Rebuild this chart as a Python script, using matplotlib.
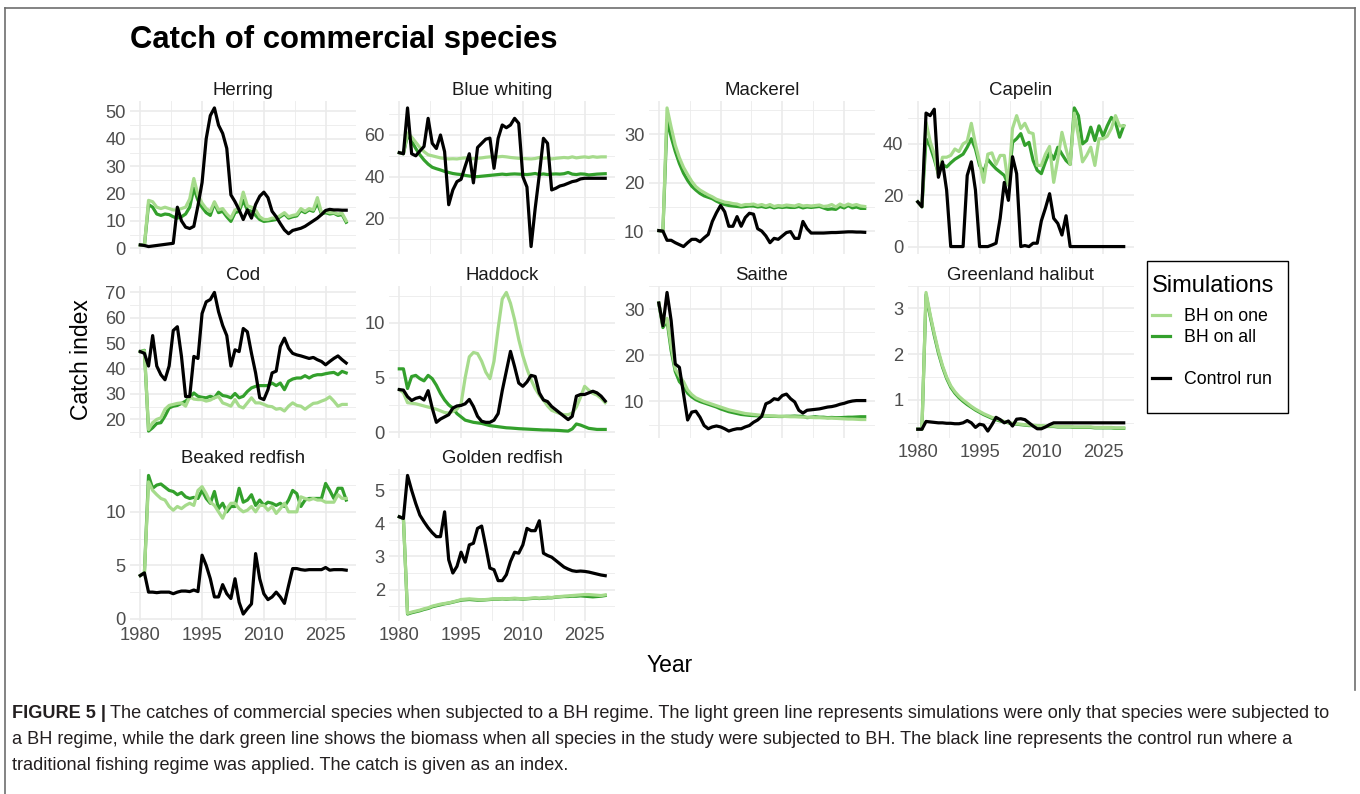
import matplotlib
matplotlib.use("Agg")
import matplotlib.pyplot as plt
from matplotlib.lines import Line2D
from matplotlib.patches import Rectangle
from matplotlib.ticker import FixedLocator, MultipleLocator

plt.rcParams["font.family"] = ["Liberation Sans", "DejaVu Sans"]

# ---- data ----
years = list(range(1980, 2031))

herring_one = [1.2, 1.0, 17.5, 17.0, 15.0, 14.5, 15.0, 14.5, 14.0, 14.0,
               14.5, 15.0, 18.0, 25.5, 19.5, 16.5, 14.5, 13.5, 17.0, 14.0,
               14.5, 12.5, 11.0, 14.0, 14.5, 20.5, 15.5, 15.0, 14.0, 11.5,
               10.5, 10.5, 11.0, 11.0, 12.0, 13.0, 11.5, 12.0, 12.3, 14.5,
               13.5, 14.5, 14.0, 18.5, 13.0, 13.5, 13.0, 13.0, 12.5, 12.8, 10.0]
herring_all = [1.2, 1.0, 16.0, 15.0, 12.5, 12.0, 12.5, 12.3, 11.5, 11.0,
               11.5, 12.5, 15.0, 22.0, 17.5, 15.0, 13.0, 12.0, 16.5, 13.0,
               13.5, 11.5, 9.8, 13.0, 13.5, 17.5, 14.0, 13.5, 12.0, 10.5,
               9.8, 10.0, 10.2, 10.5, 11.5, 12.5, 11.0, 11.5, 11.8, 13.8,
               13.0, 14.0, 13.5, 16.5, 12.5, 13.0, 12.5, 12.8, 12.0, 12.3, 9.5]
herring_ctrl = [1.2, 1.0, 0.6, 0.8, 1.0, 1.2, 1.4, 1.6, 1.8, 15.0,
                10.0, 7.7, 7.2, 8.0, 15.5, 24.0, 40.0, 48.5, 51.3, 45.0,
                42.0, 36.5, 19.5, 17.0, 14.0, 10.5, 14.0, 11.0, 16.0, 19.0,
                20.5, 18.5, 13.5, 11.5, 9.0, 6.7, 5.3, 6.5, 6.9, 7.3,
                8.0, 9.0, 10.0, 11.0, 12.3, 13.8, 14.2, 14.0, 14.0, 13.9, 13.9]

blue_one = [51.5, 51.0, 61.0, 59.0, 56.5, 54.0, 52.0, 50.5, 50.0, 49.5,
            49.0, 48.7, 48.5, 48.6, 48.5, 48.8, 49.0, 48.7, 48.6, 48.8,
            49.0, 49.3, 49.5, 49.2, 49.5, 49.7, 49.5, 49.2, 49.0, 48.8,
            48.7, 48.6, 48.5, 48.7, 49.2, 48.8, 49.0, 48.5, 48.8, 49.0,
            49.2, 49.0, 49.5, 49.0, 49.3, 49.5, 49.2, 49.6, 49.3, 49.5, 49.5]
blue_all = [51.5, 51.0, 60.0, 57.0, 53.5, 50.5, 48.0, 46.0, 44.5, 43.8,
            43.2, 42.5, 42.0, 41.5, 41.2, 41.0, 40.6, 40.3, 40.0, 40.0,
            40.2, 40.4, 40.6, 40.8, 41.0, 41.2, 41.0, 41.2, 41.3, 41.2,
            41.1, 41.0, 41.2, 41.5, 41.0, 41.3, 41.0, 41.2, 41.3, 41.2,
            41.4, 42.0, 41.2, 41.0, 41.3, 41.2, 40.8, 41.0, 41.2, 41.3, 41.4]
blue_ctrl = [51.5, 51.0, 73.0, 51.0, 50.0, 52.3, 54.5, 68.0, 56.0, 53.5,
             60.0, 52.0, 26.5, 33.6, 37.6, 38.7, 45.0, 51.0, 37.0, 54.0,
             56.0, 58.0, 58.5, 44.0, 58.4, 64.8, 63.5, 64.8, 68.0, 65.6,
             40.0, 35.0, 6.4, 24.8, 40.8, 58.4, 56.0, 33.6, 34.4, 35.5,
             36.0, 36.8, 37.6, 38.0, 38.9, 39.2, 39.2, 39.2, 39.2, 39.2, 39.2]

mackerel_one = [10.1, 10.0, 35.5, 31.5, 27.8, 25.2, 23.2, 21.7, 20.3, 19.2,
                18.5, 18.0, 17.5, 17.1, 16.6, 16.3, 16.0, 15.9, 15.7, 15.6,
                15.3, 15.5, 15.5, 15.6, 15.3, 15.5, 15.2, 15.5, 15.1, 15.3,
                15.2, 15.4, 15.3, 15.2, 15.5, 15.2, 15.3, 15.2, 15.3, 15.4,
                15.1, 15.2, 15.5, 15.0, 15.6, 15.2, 15.6, 15.3, 15.5, 15.2, 15.1]
mackerel_all = [10.1, 10.0, 33.0, 29.5, 26.5, 24.0, 22.0, 20.5, 19.3, 18.5,
                17.8, 17.3, 17.0, 16.7, 16.2, 15.8, 15.5, 15.3, 15.2, 15.1,
                15.0, 15.1, 15.2, 15.2, 15.0, 15.1, 14.9, 15.1, 14.8, 15.0,
                14.9, 15.0, 14.9, 14.9, 15.1, 14.8, 15.0, 14.9, 15.0, 15.1,
                14.8, 14.5, 14.6, 14.5, 15.1, 14.8, 15.3, 14.8, 15.0, 14.7, 14.7]
mackerel_ctrl = [10.1, 10.0, 8.1, 8.1, 7.6, 7.2, 6.8, 7.6, 8.3, 8.3,
                 7.8, 8.6, 9.3, 12.0, 13.8, 15.3, 14.0, 11.0, 11.0, 13.0,
                 11.0, 12.8, 13.7, 13.5, 10.5, 10.0, 9.0, 7.6, 8.5, 8.3,
                 9.0, 9.7, 9.9, 8.5, 8.5, 12.0, 10.5, 9.6, 9.6, 9.6,
                 9.6, 9.65, 9.7, 9.7, 9.75, 9.8, 9.85, 9.85, 9.8, 9.8, 9.75]

capelin_one = [17.4, 15.5, 48.4, 41.0, 36.0, 27.7, 34.8, 34.8, 35.5, 38.0,
               37.0, 40.0, 41.0, 48.0, 40.0, 33.0, 25.0, 36.0, 36.5, 32.0,
               35.5, 35.5, 24.0, 46.0, 51.0, 46.0, 48.0, 44.5, 44.0, 31.6,
               31.6, 36.0, 39.0, 25.0, 34.0, 44.5, 38.0, 32.0, 52.0, 43.0,
               33.0, 35.5, 38.7, 31.6, 42.0, 42.0, 43.0, 46.0, 51.0, 47.0, 47.0]
capelin_all = [17.4, 15.5, 42.0, 39.0, 34.0, 28.4, 32.0, 31.0, 32.6, 34.0,
               35.0, 36.0, 38.7, 42.0, 38.0, 31.6, 29.0, 34.0, 32.0, 30.3,
               29.0, 27.7, 24.0, 40.6, 42.0, 44.0, 39.4, 40.6, 33.5, 29.7,
               28.4, 33.0, 36.8, 34.0, 38.7, 36.0, 33.5, 32.0, 54.0, 51.0,
               40.0, 41.3, 46.5, 41.3, 47.0, 43.0, 47.0, 50.3, 48.4, 42.6, 47.0]
capelin_ctrl = [17.4, 15.5, 52.0, 51.0, 53.5, 27.0, 33.0, 22.0, 0.0, 0.0,
                0.0, 0.0, 27.7, 33.0, 22.0, 0.0, 0.0, 0.0, 0.6, 1.3,
                11.0, 25.0, 18.0, 35.0, 28.4, 0.0, 0.4, 0.0, 1.3, 1.3,
                10.0, 15.0, 20.6, 11.0, 9.0, 4.5, 12.0, 0.0, 0.0, 0.0,
                0.0, 0.0, 0.0, 0.0, 0.0, 0.0, 0.0, 0.0, 0.0, 0.0, 0.0]

cod_one = [46.7, 47.0, 16.0, 18.7, 20.0, 20.6, 24.0, 25.5, 25.9, 26.3,
           26.5, 25.2, 28.9, 28.0, 27.8, 27.8, 27.2, 27.6, 28.5, 29.0,
           26.5, 25.9, 25.2, 27.8, 25.2, 24.5, 26.5, 28.5, 26.5, 26.5,
           25.9, 25.2, 25.0, 24.0, 24.3, 23.3, 25.2, 26.5, 25.5, 25.2,
           24.0, 25.2, 26.3, 26.5, 27.2, 27.8, 28.9, 27.2, 25.2, 25.9, 25.9]
cod_all = [46.7, 47.2, 15.4, 16.7, 18.4, 18.7, 21.3, 24.5, 25.2, 25.5,
           26.3, 27.2, 28.5, 30.4, 29.1, 28.7, 28.5, 29.1, 28.5, 30.7,
           29.4, 29.1, 28.5, 30.2, 28.5, 29.1, 31.0, 32.4, 33.0, 33.3,
           33.3, 33.3, 34.3, 33.3, 34.3, 31.7, 35.0, 35.9, 36.3, 36.3,
           37.2, 36.3, 37.2, 37.6, 37.6, 38.0, 38.3, 38.5, 37.6, 38.9, 38.3]
cod_ctrl = [46.7, 46.0, 41.0, 53.0, 41.0, 37.6, 35.6, 41.0, 55.0, 56.5,
            44.8, 29.0, 29.0, 44.8, 44.0, 61.7, 66.3, 67.2, 70.0, 62.4,
            57.0, 53.0, 41.0, 47.4, 46.7, 55.8, 54.5, 46.0, 38.3, 28.5,
            27.8, 31.7, 38.3, 39.0, 48.7, 52.0, 48.0, 46.0, 45.4, 45.0,
            44.5, 44.0, 44.4, 43.5, 42.8, 41.5, 42.8, 44.0, 45.0, 43.5, 42.2]

haddock_one = [3.9, 3.6, 2.7, 2.65, 2.6, 2.5, 2.4, 2.3, 2.2, 2.1,
               1.95, 1.8, 1.75, 1.9, 2.1, 2.6, 5.0, 6.9, 7.3, 7.2,
               6.5, 5.5, 4.9, 6.5, 9.5, 12.2, 12.8, 11.8, 10.3, 8.5,
               7.0, 5.8, 4.8, 4.0, 3.4, 2.95, 2.4, 2.0, 1.85, 1.7,
               1.6, 1.6, 1.75, 2.3, 3.2, 4.2, 3.85, 3.55, 3.4, 3.1, 2.7]
haddock_all = [5.8, 5.8, 4.0, 5.1, 5.2, 4.9, 4.7, 5.2, 4.9, 4.3,
               3.55, 2.95, 2.5, 2.2, 1.7, 1.4, 1.1, 1.0, 0.9, 0.85,
               0.8, 0.7, 0.6, 0.55, 0.5, 0.45, 0.4, 0.38, 0.35, 0.32,
               0.3, 0.28, 0.26, 0.24, 0.22, 0.2, 0.2, 0.18, 0.17, 0.15,
               0.12, 0.1, 0.3, 0.75, 0.65, 0.5, 0.35, 0.3, 0.25, 0.25, 0.25]
haddock_ctrl = [3.9, 3.85, 3.25, 2.9, 3.1, 3.2, 2.95, 3.8, 2.2, 0.9,
                1.2, 1.4, 1.6, 2.2, 2.4, 2.45, 2.6, 3.0, 2.35, 1.45,
                1.0, 0.9, 0.9, 1.1, 1.7, 3.8, 5.6, 7.4, 6.0, 4.5,
                4.2, 4.6, 5.2, 5.1, 3.6, 2.95, 2.8, 2.35, 2.05, 1.75,
                1.45, 1.15, 1.45, 3.3, 3.45, 3.45, 3.6, 3.75, 3.6, 3.3, 2.85]

saithe_one = [31.3, 26.5, 28.0, 22.0, 17.0, 15.5, 14.3, 12.5, 11.5, 10.8,
              10.4, 10.0, 9.7, 9.4, 9.1, 8.8, 8.5, 8.2, 8.0, 7.8,
              7.6, 7.4, 7.3, 7.2, 7.1, 7.0, 6.95, 6.9, 6.85, 6.8,
              6.8, 6.75, 6.7, 6.7, 6.65, 6.6, 6.6, 6.55, 6.5, 6.5,
              6.45, 6.4, 6.4, 6.35, 6.3, 6.25, 6.2, 6.2, 6.15, 6.1, 6.1]
saithe_all = [31.3, 26.0, 27.5, 21.0, 16.5, 14.3, 13.3, 11.8, 11.0, 10.4,
              10.0, 9.7, 9.4, 9.1, 8.8, 8.4, 8.1, 7.8, 7.6, 7.4,
              7.2, 7.1, 7.0, 6.95, 6.9, 6.85, 6.85, 6.8, 6.8, 6.75,
              6.75, 6.8, 6.8, 6.85, 6.8, 6.8, 6.5, 6.6, 6.7, 6.6,
              6.6, 6.5, 6.55, 6.5, 6.5, 6.55, 6.6, 6.6, 6.65, 6.7, 6.7]
saithe_ctrl = [31.3, 26.4, 33.6, 27.5, 18.1, 17.4, 11.7, 6.0, 7.7, 7.9,
               6.6, 4.8, 4.1, 4.5, 4.7, 4.5, 4.1, 3.6, 3.9, 4.1,
               4.1, 4.5, 4.8, 5.5, 6.0, 6.8, 9.5, 9.9, 10.6, 10.4,
               11.3, 11.6, 10.6, 9.9, 8.1, 7.5, 8.1, 8.2, 8.3, 8.4,
               8.6, 8.8, 8.9, 9.1, 9.4, 9.6, 9.9, 10.1, 10.2, 10.2, 10.2]

halibut_one = [0.36, 0.36, 3.35, 2.87, 2.45, 2.07, 1.75, 1.5, 1.31, 1.18,
               1.08, 1.0, 0.93, 0.86, 0.8, 0.75, 0.7, 0.66, 0.62, 0.59,
               0.56, 0.53, 0.51, 0.49, 0.48, 0.47, 0.46, 0.45, 0.45, 0.44,
               0.44, 0.43, 0.43, 0.43, 0.42, 0.42, 0.42, 0.42, 0.41, 0.41,
               0.41, 0.41, 0.41, 0.4, 0.4, 0.4, 0.4, 0.4, 0.39, 0.39, 0.39]
halibut_all = [0.36, 0.36, 3.3, 2.83, 2.41, 2.03, 1.72, 1.47, 1.28, 1.15,
               1.05, 0.97, 0.9, 0.84, 0.78, 0.73, 0.68, 0.64, 0.6, 0.57,
               0.54, 0.52, 0.5, 0.48, 0.47, 0.46, 0.45, 0.44, 0.44, 0.43,
               0.43, 0.42, 0.42, 0.42, 0.41, 0.41, 0.41, 0.41, 0.4, 0.4,
               0.4, 0.4, 0.4, 0.39, 0.39, 0.39, 0.39, 0.39, 0.38, 0.38, 0.38]
halibut_ctrl = [0.36, 0.36, 0.53, 0.52, 0.51, 0.5, 0.5, 0.49, 0.49, 0.48,
                0.48, 0.5, 0.55, 0.5, 0.4, 0.47, 0.45, 0.32, 0.46, 0.62,
                0.57, 0.5, 0.54, 0.43, 0.58, 0.59, 0.57, 0.5, 0.43, 0.37,
                0.37, 0.41, 0.46, 0.5, 0.5, 0.5, 0.5, 0.5, 0.5, 0.5,
                0.5, 0.5, 0.5, 0.5, 0.5, 0.5, 0.5, 0.5, 0.5, 0.5, 0.5]

beaked_one = [4.05, 4.3, 12.8, 12.0, 11.6, 11.25, 11.1, 10.5, 10.15, 10.5,
              10.3, 10.6, 10.8, 10.6, 12.0, 12.35, 11.7, 10.9, 10.6, 10.0,
              9.4, 10.3, 10.8, 10.8, 10.3, 10.0, 10.15, 10.5, 10.0, 10.6,
              10.6, 10.15, 10.5, 9.85, 10.3, 10.8, 10.0, 10.0, 10.0, 11.4,
              11.25, 11.1, 11.25, 11.1, 11.1, 10.9, 10.9, 10.9, 11.6, 11.25, 11.25]
beaked_all = [4.05, 4.3, 13.4, 12.2, 12.5, 12.6, 12.3, 12.0, 11.9, 11.6,
              11.8, 11.4, 11.25, 11.35, 11.25, 12.0, 11.25, 10.8, 11.9, 10.3,
              10.8, 10.0, 10.5, 10.5, 12.2, 10.9, 11.1, 11.6, 10.6, 11.1,
              10.6, 10.9, 10.8, 10.6, 10.8, 10.5, 11.1, 12.0, 11.7, 10.5,
              11.1, 11.25, 11.25, 11.25, 11.25, 12.65, 12.0, 11.25, 12.2, 12.2, 11.1]
beaked_ctrl = [4.05, 4.3, 2.5, 2.5, 2.45, 2.5, 2.5, 2.5, 2.35, 2.5,
               2.6, 2.6, 2.55, 2.7, 2.55, 5.95, 5.0, 3.75, 2.05, 2.05,
               3.2, 2.35, 1.9, 3.75, 1.55, 0.45, 0.95, 1.4, 6.1, 3.75,
               2.35, 1.8, 2.05, 2.5, 2.05, 1.45, 3.1, 4.7, 4.7, 4.6,
               4.55, 4.6, 4.6, 4.6, 4.6, 4.8, 4.55, 4.6, 4.6, 4.6, 4.55]

golden_one = [4.2, 4.15, 1.28, 1.32, 1.35, 1.38, 1.42, 1.45, 1.5, 1.53,
              1.56, 1.58, 1.6, 1.63, 1.66, 1.7, 1.71, 1.72, 1.71, 1.7,
              1.69, 1.7, 1.71, 1.72, 1.72, 1.73, 1.72, 1.73, 1.74, 1.73,
              1.72, 1.73, 1.74, 1.75, 1.74, 1.75, 1.77, 1.76, 1.78, 1.79,
              1.8, 1.81, 1.82, 1.83, 1.84, 1.85, 1.85, 1.84, 1.83, 1.82, 1.84]
golden_all = [4.2, 4.15, 1.26, 1.3, 1.33, 1.36, 1.4, 1.43, 1.48, 1.51,
              1.54, 1.57, 1.59, 1.62, 1.65, 1.68, 1.69, 1.7, 1.69, 1.68,
              1.68, 1.69, 1.7, 1.71, 1.71, 1.72, 1.71, 1.72, 1.72, 1.72,
              1.71, 1.72, 1.73, 1.74, 1.73, 1.74, 1.75, 1.75, 1.77, 1.78,
              1.79, 1.79, 1.8, 1.8, 1.81, 1.8, 1.79, 1.78, 1.79, 1.8, 1.82]
golden_ctrl = [4.2, 4.15, 5.45, 5.0, 4.6, 4.25, 4.05, 3.87, 3.72, 3.6,
               3.6, 4.35, 2.9, 2.5, 2.7, 3.13, 2.83, 3.35, 3.4, 3.85,
               3.92, 3.3, 2.65, 2.6, 2.27, 2.27, 2.45, 2.85, 3.13, 3.1,
               3.35, 3.85, 3.78, 3.78, 4.08, 3.1, 3.03, 2.98, 2.88, 2.78,
               2.68, 2.62, 2.57, 2.55, 2.56, 2.55, 2.53, 2.5, 2.47, 2.44, 2.42]

species = ["Herring", "Blue whiting", "Mackerel", "Capelin", "Cod",
           "Haddock", "Saithe", "Greenland halibut", "Beaked redfish", "Golden redfish"]
series_one = [herring_one, blue_one, mackerel_one, capelin_one, cod_one,
              haddock_one, saithe_one, halibut_one, beaked_one, golden_one]
series_all = [herring_all, blue_all, mackerel_all, capelin_all, cod_all,
              haddock_all, saithe_all, halibut_all, beaked_all, golden_all]
series_ctrl = [herring_ctrl, blue_ctrl, mackerel_ctrl, capelin_ctrl, cod_ctrl,
               haddock_ctrl, saithe_ctrl, halibut_ctrl, beaked_ctrl, golden_ctrl]
y_breaks = [[0, 10, 20, 30, 40, 50], [20, 40, 60], [10, 20, 30], [0, 20, 40],
            [20, 30, 40, 50, 60, 70], [0, 5, 10], [10, 20, 30], [1, 2, 3],
            [0, 5, 10], [2, 3, 4, 5]]
x_breaks = [1980, 1995, 2010, 2025]
legend_labels = ["BH on one", "BH on all", "Control run"]

caption_lines = [
    "The catches of commercial species when subjected to a BH regime. The light green line represents simulations were only that species were subjected to",
    "a BH regime, while the dark green line shows the biomass when all species in the study were subjected to BH. The black line represents the control run where a",
    "traditional fishing regime was applied. The catch is given as an index.",
]

# ---- layout ----
W, H = 1360, 794
LIGHT, DARK = "#A6DB8C", "#33A02C"
GRID = "#EBEBEB"
col_left = [130, 389, 648.5, 907.5]
row_top = [101, 285.5, 468.5]
pw, ph = 226.5, 152.5
with_xlabels = {"Greenland halibut", "Beaked redfish", "Golden redfish"}

fig = plt.figure(figsize=(W / 100, H / 100), dpi=100, facecolor="white")

for k, name in enumerate(species):
    r, c = divmod(k, 4)
    ax = fig.add_axes([col_left[c] / W, 1 - (row_top[r] + ph) / H, pw / W, ph / H])
    ax.plot(years, series_all[k], color=DARK, lw=2.3, solid_joinstyle="round")
    ax.plot(years, series_one[k], color=LIGHT, lw=2.3, solid_joinstyle="round")
    ax.plot(years, series_ctrl[k], color="black", lw=2.3, solid_joinstyle="round")

    lo = min(min(series_one[k]), min(series_all[k]), min(series_ctrl[k]))
    hi = max(max(series_one[k]), max(series_all[k]), max(series_ctrl[k]))
    pad = 0.05 * (hi - lo)
    ax.set_ylim(lo - pad, hi + pad)
    ax.set_xlim(1977.5, 2032.5)

    yb = y_breaks[k]
    ax.yaxis.set_major_locator(FixedLocator(yb))
    ax.yaxis.set_minor_locator(MultipleLocator((yb[1] - yb[0]) / 2))
    ax.xaxis.set_major_locator(FixedLocator(x_breaks))
    ax.xaxis.set_minor_locator(MultipleLocator(7.5))
    ax.set_yticklabels([str(v) for v in yb])
    ax.grid(which="major", color=GRID, lw=1.2)
    ax.grid(which="minor", color=GRID, lw=0.6)
    ax.set_axisbelow(True)
    for s in ax.spines.values():
        s.set_visible(False)
    ax.tick_params(which="both", length=0, labelsize=13.2, labelcolor="#4D4D4D")
    ax.tick_params(axis="y", pad=3)
    ax.tick_params(axis="x", pad=4)
    if name not in with_xlabels:
        ax.tick_params(axis="x", labelbottom=False)
    ax.set_title(name, fontsize=13.4, color="#1A1A1A", pad=4)

fig.text(82 / W, 1 - 360 / H, "Catch index", rotation=90, fontsize=16.5,
         ha="center", va="center", color="black")
fig.text(670 / W, 1 - 665 / H, "Year", fontsize=16.5, ha="center", va="center")
fig.text(130 / W, 1 - 40 / H, "Catch of commercial species", fontsize=22.3,
         weight="bold", ha="left", va="center")

# legend: entries without frame, box drawn separately
handles = [Line2D([], [], color=LIGHT, lw=2.3),
           Line2D([], [], color=DARK, lw=2.3),
           Line2D([], [], color="none"),
           Line2D([], [], color="black", lw=2.3)]
leg = fig.legend(handles, [legend_labels[0], legend_labels[1], "", legend_labels[2]],
                 title="Simulations", loc="upper left",
                 bbox_to_anchor=(1152 / W, 1 - 275 / H), borderaxespad=0,
                 frameon=False, fontsize=12.8, title_fontsize=17,
                 handlelength=1.0, handletextpad=0.8, labelspacing=0.22,
                 borderpad=0, alignment="left")
leg._legend_box.sep = 0.45 * 12.8 * 100 / 72
fig.add_artist(Rectangle((1147 / W, 1 - 413 / H), 141 / W, 152 / H,
                         transform=fig.transFigure, fill=False,
                         edgecolor="black", lw=1.0))

# caption
renderer = fig.canvas.get_renderer()
cap_y = [713, 739, 765]
for i, line in enumerate(caption_lines):
    x0 = 12 / W
    if i == 0:
        t = fig.text(x0, 1 - cap_y[i] / H, "FIGURE 5 |", fontsize=13.1, weight="bold",
                     ha="left", va="center", color="#231F20")
        bb = t.get_window_extent(renderer)
        x0 = (bb.x1 + 4) / W
    fig.text(x0, 1 - cap_y[i] / H, line, fontsize=13.1, ha="left", va="center",
             color="#231F20")

# frame around the figure
for xs, ys in [([5, 5], [8, 794]), ([5, 1355], [8, 8]), ([1355, 1355], [8, 690])]:
    fig.add_artist(Line2D([v / W for v in xs], [1 - v / H for v in ys],
                          transform=fig.transFigure, color="#6E6E6E", lw=1.2))

fig.savefig("out.png", dpi=100, facecolor="white")
plt.close(fig)
